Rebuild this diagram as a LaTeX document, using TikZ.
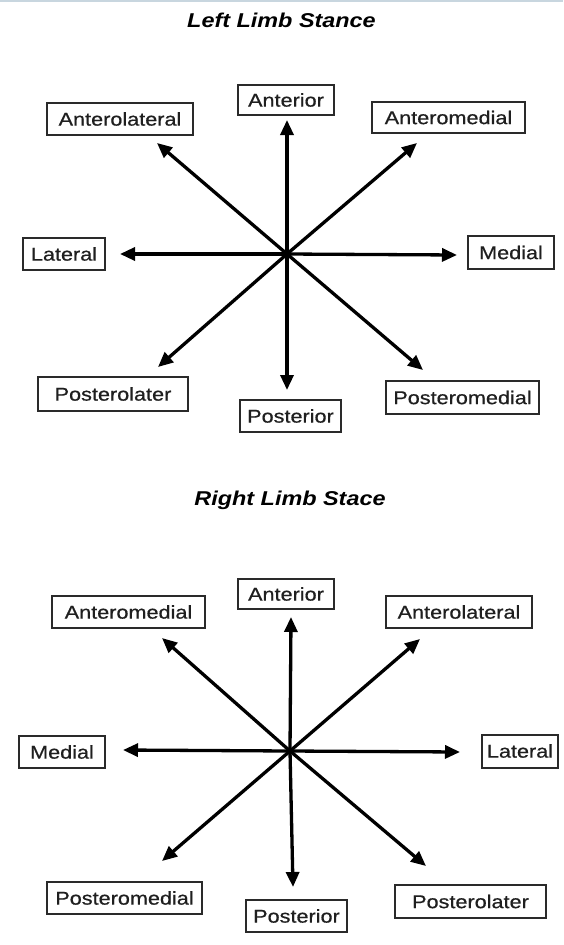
\documentclass[tikz,border=0pt]{standalone}
\usepackage{fontspec}
\usetikzlibrary{arrows.meta}
\newfontfamily\labfont[FakeStretch=1.17,FakeBold=0.6]{Liberation Sans}
\newfontfamily\titlefont[FakeStretch=1.17]{Liberation Sans}
\definecolor{boxline}{HTML}{2A2A2A}
\definecolor{topline}{HTML}{C8D6DF}
\tikzset{
  lbox/.style={draw=boxline, line width=2pt, inner sep=0pt, align=center,
    text=black!88, font=\labfont\fontsize{18.5}{20}\selectfont},
  ttl/.style={inner sep=0pt, font=\titlefont\bfseries\itshape\fontsize{20}{22}\selectfont},
  ray/.style={line width=3.3pt, black, -{Triangle[length=15pt,width=13pt]}}
}
\begin{document}
\begin{tikzpicture}[x=1pt,y=-1pt]
\useasboundingbox (0,0) rectangle (563,945);
\fill[white] (0,0) rectangle (563,945);
\fill[topline] (0,0) rectangle (563,2);

% ---------- Left limb stance ----------
\node[ttl] (t1) at (281.5,20) {Left Limb Stance};
\coordinate (c1) at (287,254);
\node[lbox, minimum width=96pt, minimum height=30pt] (a1) at (286,100) {Anterior};
\node[lbox, minimum width=146pt, minimum height=32pt] (al1) at (120,119) {Anterolateral};
\node[lbox, minimum width=153pt, minimum height=31pt] (am1) at (448.5,117.5) {Anteromedial};
\node[lbox, minimum width=82pt, minimum height=32pt] (l1) at (64,254) {Lateral};
\node[lbox, minimum width=86pt, minimum height=33pt] (m1) at (511,252.5) {Medial};
\node[lbox, minimum width=150pt, minimum height=34pt] (pl1) at (113,394) {Posterolater};
\node[lbox, minimum width=101pt, minimum height=32pt] (p1) at (290.5,416) {Posterior};
\node[lbox, minimum width=153pt, minimum height=33pt] (pm1) at (462.5,397.5) {Posteromedial};
\coordinate (ta1) at (287,120);
\coordinate (tal1) at (157,143);
\coordinate (tam1) at (417,143);
\coordinate (tl1) at (120,254);
\coordinate (tm1) at (457,255);
\coordinate (tpl1) at (158,367);
\coordinate (tp1) at (287,390);
\coordinate (tpm1) at (423,370);
\foreach \t in {ta1,tal1,tam1,tl1,tm1,tpl1,tp1,tpm1}
  \draw[ray] (c1) -- (\t);

% ---------- Right limb stance ----------
\node[ttl] (t2) at (290,500) {Right Limb Stace};
\coordinate (c2) at (290,751);
\node[lbox, minimum width=96pt, minimum height=30pt] (a2) at (286,594) {Anterior};
\node[lbox, minimum width=153pt, minimum height=32pt] (am2) at (128.5,612) {Anteromedial};
\node[lbox, minimum width=146pt, minimum height=32pt] (al2) at (459,612) {Anterolateral};
\node[lbox, minimum width=86pt, minimum height=32pt] (m2) at (62,752) {Medial};
\node[lbox, minimum width=76pt, minimum height=33pt] (l2) at (520,751) {Lateral};
\node[lbox, minimum width=155pt, minimum height=32pt] (pm2) at (124.5,898) {Posteromedial};
\node[lbox, minimum width=101pt, minimum height=32pt] (p2) at (296.5,916) {Posterior};
\node[lbox, minimum width=151pt, minimum height=33pt] (pl2) at (470.5,901.5) {Posterolater};
\coordinate (ta2) at (291,617);
\coordinate (tam2) at (162,638);
\coordinate (tal2) at (420,639);
\coordinate (tm2) at (123,750);
\coordinate (tl2) at (460,752);
\coordinate (tpm2) at (162,861);
\coordinate (tp2) at (293,887);
\coordinate (tpl2) at (426,866);
\foreach \t in {ta2,tam2,tal2,tm2,tl2,tpm2,tp2,tpl2}
  \draw[ray] (c2) -- (\t);
\end{tikzpicture}
\end{document}
